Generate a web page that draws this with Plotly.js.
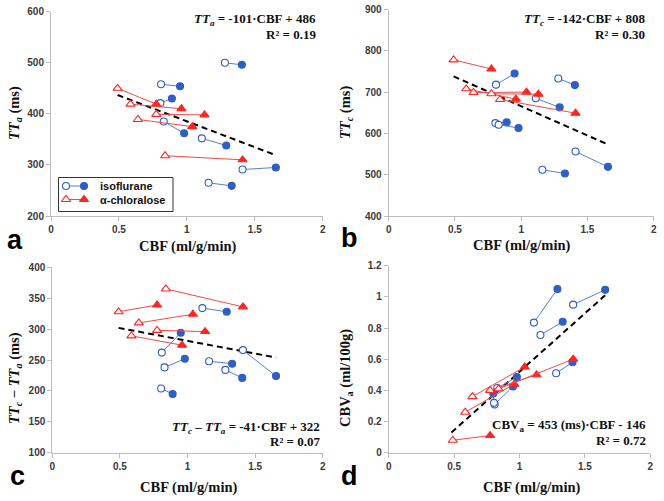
<!DOCTYPE html>
<html>
<head>
<meta charset="utf-8">
<script src="https://cdn.plot.ly/plotly-3.0.1.min.js"></script>
<style>
  html, body { margin: 0; padding: 0; background: #fff; }
  #chart { width: 664px; height: 501px; }
</style>
</head>
<body>
<div id="chart"></div>
<script>
// CBF (ml/g/min), open marker = first state, filled marker = second state
const isoCBF0 = [1.28, 0.81, 0.805, 0.83, 1.11, 1.41, 1.16];
const isoCBF1 = [1.405, 0.95, 0.89, 0.98, 1.29, 1.655, 1.33];
const isoCBF1d = [1.405, 0.95, 0.80, 0.98, 1.29, 1.655, 1.33];
const chlCBF0 = [0.49, 0.585, 0.64, 0.775, 0.84];
const chlCBF1 = [0.775, 0.96, 1.04, 1.13, 1.41];

// panel a: TTa (ms)
const isoTTa0 = [500, 458, 421, 385, 352, 291, 265];
const isoTTa1 = [496, 454, 430, 362, 338, 295, 259];
const chlTTa0 = [450, 419, 389, 399, 318];
const chlTTa1 = [419, 410, 375, 398, 310];

// panel b: TTc (ms)
const isoTTc0 = [733, 718, 625, 621, 685, 556, 512];
const isoTTc1 = [717, 745, 627, 613, 663, 519, 503];
const chlTTc0 = [778, 708, 699, 696, 682];
const chlTTc1 = [756, 683, 700, 695, 649];

// panel c: TTc - TTa (ms)
const isoDiff0 = [234, 262, 204, 238, 334, 266, 248];
const isoDiff1 = [221, 294, 195, 252, 328, 224, 244];
const chlDiff0 = [328, 289, 310, 298, 365];
const chlDiff1 = [339, 274, 324, 296, 336];

// panel d: CBVa (ml/100g)
const isoCBV0 = [0.51, 0.31, 0.32, 0.415, 0.835, 0.95, 0.755];
const isoCBV1 = [0.58, 0.425, 0.38, 0.485, 1.05, 1.045, 0.84];
const chlCBV0 = [0.08, 0.26, 0.36, 0.40, 0.41];
const chlCBV1 = [0.11, 0.44, 0.55, 0.50, 0.60];

// regression line ends
const fitX = [0.49, 1.655];
const fitA = [437, 319];
const fitB = [738, 573];
const fitC = [302, 254];
const fitXd = [0.48, 1.655];
const fitD = [0.13, 1.01];

const BLUE = '#2f5ec4';
const BLUE_LINE = '#5a7fd2';
const RED = '#ff2424';
const RED_LINE = '#f24a4a';

const W = 664, H = 501;
const px = x => x / W;
const py = y => 1 - y / H;

function pairTraces(x0, y0, x1, y1, xa, ya, iso) {
    const col = iso ? BLUE : RED;
    const sym = iso ? 'circle' : 'triangle-up';
    return x0.map((_, i) => ({
        x: [x0[i], x1[i]],
        y: [y0[i], y1[i]],
        xaxis: xa, yaxis: ya,
        type: 'scatter',
        mode: 'lines+markers',
        line: { color: iso ? BLUE_LINE : RED_LINE, width: 1 },
        marker: {
            symbol: [sym, sym],
            size: iso ? 7 : 8,
            color: ['#ffffff', col],
            line: { color: col, width: 1.1 }
        },
        hoverinfo: 'skip'
    }));
}

function fitTrace(x, y, xa, ya) {
    return {
        x: x, y: y, xaxis: xa, yaxis: ya,
        type: 'scatter', mode: 'lines',
        line: { color: '#000', width: 2, dash: '6px,4px' },
        hoverinfo: 'skip'
    };
}

const traces = [
    fitTrace(fitX, fitA, 'x', 'y'),
    ...pairTraces(isoCBF0, isoTTa0, isoCBF1, isoTTa1, 'x', 'y', true),
    ...pairTraces(chlCBF0, chlTTa0, chlCBF1, chlTTa1, 'x', 'y', false),

    fitTrace(fitX, fitB, 'x2', 'y2'),
    ...pairTraces(isoCBF0, isoTTc0, isoCBF1, isoTTc1, 'x2', 'y2', true),
    ...pairTraces(chlCBF0, chlTTc0, chlCBF1, chlTTc1, 'x2', 'y2', false),

    fitTrace(fitX, fitC, 'x3', 'y3'),
    ...pairTraces(isoCBF0, isoDiff0, isoCBF1, isoDiff1, 'x3', 'y3', true),
    ...pairTraces(chlCBF0, chlDiff0, chlCBF1, chlDiff1, 'x3', 'y3', false),

    fitTrace(fitXd, fitD, 'x4', 'y4'),
    ...pairTraces(isoCBF0, isoCBV0, isoCBF1d, isoCBV1, 'x4', 'y4', true),
    ...pairTraces(chlCBF0, chlCBV0, chlCBF1, chlCBV1, 'x4', 'y4', false)
];

// legend glyphs on a page-pixel overlay axis
const legendRows = [186, 199.5];
traces.push(...pairTraces([66], [legendRows[0]], [84], [legendRows[0]], 'x5', 'y5', true));
traces.push(...pairTraces([66], [legendRows[1]], [84], [legendRows[1]], 'x5', 'y5', false));

const tickFont = { family: 'Arial, "Liberation Sans"', size: 10, color: '#3a3a3a', weight: 'bold' };

function axis(domain, range, dtick, anchor) {
    return {
        domain: domain, range: range, dtick: dtick, anchor: anchor,
        showline: true, linecolor: '#bdbdbd', linewidth: 1,
        ticks: 'outside', ticklen: 4, tickcolor: '#bdbdbd',
        showgrid: false, zeroline: false,
        tickfont: tickFont, fixedrange: true
    };
}

const serif = { family: '"Liberation Serif", "Times New Roman", serif', size: 14.5, color: '#111', weight: 'bold' };
const eqFont = { family: '"Liberation Serif", "Times New Roman", serif', size: 13, color: '#111', weight: 'bold' };
const letterFont = { family: 'Arial, "Liberation Sans"', size: 27, color: '#000', weight: 'bold' };
const legendFont = { family: 'Arial, "Liberation Sans"', size: 11, color: '#111', weight: 'bold' };

function note(x, y, text, font, opts) {
    return Object.assign({
        xref: 'paper', yref: 'paper', x: px(x), y: py(y),
        text: text, showarrow: false, font: font,
        xanchor: 'center', yanchor: 'middle'
    }, opts || {});
}

const annotations = [
    // axis titles
    note(188, 247, 'CBF (ml/g/min)', serif),
    note(522, 245, 'CBF (ml/g/min)', serif),
    note(189, 487, 'CBF (ml/g/min)', serif),
    note(532, 487, 'CBF (ml/g/min)', serif),
    note(15, 113, '<i>TT<sub>a</sub></i> (ms)', serif, { textangle: -90 }),
    note(346, 113, '<i>TT<sub>c</sub></i> (ms)', serif, { textangle: -90 }),
    note(15, 378, '<i>TT<sub>c</sub></i> \u2212 <i>TT<sub>a</sub></i> (ms)', serif, { textangle: -90 }),
    note(346, 378, 'CBV<sub>a</sub> (ml/100g)', serif, { textangle: -90 }),
    // equations
    note(318, 20, '<i>TT<sub>a</sub></i> = -101\u00b7CBF + 486', eqFont, { xanchor: 'right' }),
    note(318, 34, 'R\u00b2 = 0.19', eqFont, { xanchor: 'right' }),
    note(647, 20, '<i>TT<sub>c</sub></i> = -142\u00b7CBF + 808', eqFont, { xanchor: 'right' }),
    note(647, 34, 'R\u00b2 = 0.30', eqFont, { xanchor: 'right' }),
    note(322, 427, '<i>TT<sub>c</sub></i> \u2013 <i>TT<sub>a</sub></i> = -41\u00b7CBF + 322', eqFont, { xanchor: 'right' }),
    note(322, 441, 'R\u00b2 = 0.07', eqFont, { xanchor: 'right' }),
    note(648, 425, 'CBV<sub>a</sub> = 453 (ms)\u00b7CBF - 146', eqFont, { xanchor: 'right' }),
    note(648, 440, 'R\u00b2 = 0.72', eqFont, { xanchor: 'right' }),
    // panel letters
    note(15, 240, 'a', letterFont),
    note(349, 238, 'b', letterFont),
    note(17, 476, 'c', letterFont),
    note(349, 476, 'd', letterFont),
    // legend labels
    note(98, legendRows[0], 'isoflurane', legendFont, { xanchor: 'left' }),
    note(98, legendRows[1], '\u03b1-chloralose', legendFont, { xanchor: 'left' })
];

const layout = {
    width: W, height: H,
    margin: { l: 0, r: 0, t: 0, b: 0 },
    paper_bgcolor: '#fff', plot_bgcolor: 'rgba(0,0,0,0)',
    showlegend: false,
    xaxis: axis([px(51), px(322.7)], [0, 2], 0.5, 'y'),
    yaxis: axis([py(216), py(11.7)], [200, 600], 100, 'x'),
    xaxis2: axis([px(388.7), px(653.7)], [0, 2], 0.5, 'y2'),
    yaxis2: axis([py(216), py(9.5)], [400, 900], 100, 'x2'),
    xaxis3: axis([px(52.3), px(322.7)], [0, 2], 0.5, 'y3'),
    yaxis3: axis([py(452.7), py(267.3)], [100, 400], 50, 'x3'),
    xaxis4: axis([px(388.7), px(650.3)], [0, 2], 0.5, 'y4'),
    yaxis4: axis([py(452.7), py(265.7)], [0, 1.2], 0.2, 'x4'),
    xaxis5: { domain: [0, 1], range: [0, W], visible: false, fixedrange: true },
    yaxis5: { domain: [0, 1], range: [H, 0], visible: false, fixedrange: true },
    shapes: [
        { type: 'rect', xref: 'paper', yref: 'paper',
          x0: px(58.5), x1: px(173), y0: py(177.5), y1: py(211.5),
          line: { color: '#333', width: 1 }, fillcolor: 'rgba(255,255,255,0)' }
    ],
    annotations: annotations
};

Plotly.newPlot('chart', traces, layout, { displayModeBar: false, staticPlot: true });
</script>
</body>
</html>
